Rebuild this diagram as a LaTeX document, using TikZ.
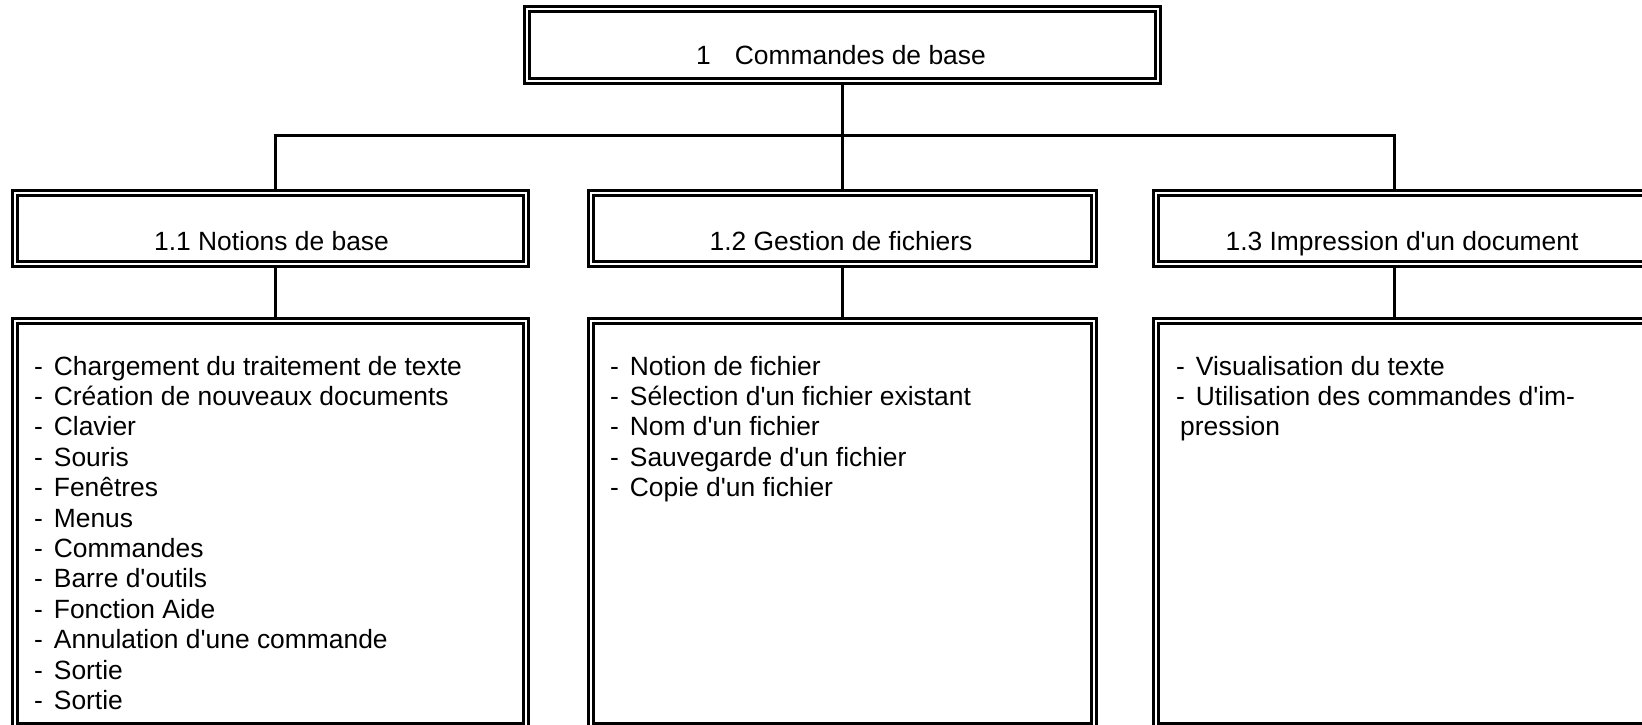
\documentclass[tikz,border=0pt]{standalone}
\usepackage{fontspec}
\newfontfamily\arialf{Liberation Sans}
\newcommand\aq{\textquotesingle}
\newcommand\lstitem[1]{\hbox{\makebox[19.7pt][l]{-}#1}}
\begin{document}
\begin{tikzpicture}[x=1pt,y=-1pt,
  dbox/.style={draw=black, double=white, line width=3pt, double distance=2pt,
    inner sep=0pt, outer sep=4pt, rectangle},
  conn/.style={draw=black, line width=3pt},
  txt/.style={inner sep=0pt, font=\arialf\fontsize{26.4}{30.4}\selectfont},
]
\useasboundingbox (0,0) rectangle (1642,725);
\clip (0,0) rectangle (1642,725);
\fill[white] (0,0) rectangle (1642,725);

% boxes
\node[dbox, minimum width=631pt, minimum height=72pt] (top) at (842.5,45) {};
\node[dbox, minimum width=511pt, minimum height=71pt] (b11) at (270.5,228.5) {};
\node[dbox, minimum width=503pt, minimum height=71pt] (b12) at (842.5,228.5) {};
\node[dbox, minimum width=511pt, minimum height=71pt] (b13) at (1411.5,228.5) {};
\node[dbox, minimum width=511pt, minimum height=405pt] (l11) at (270.5,523.5) {};
\node[dbox, minimum width=503pt, minimum height=405pt] (l12) at (842.5,523.5) {};
\node[dbox, minimum width=511pt, minimum height=405pt] (l13) at (1411.5,523.5) {};

% connectors
\coordinate (j1) at (275.5,135.5);
\coordinate (j3) at (1394.5,135.5);
\draw[conn, line cap=rect] (j1) -- (j3);
\draw[conn] (top.south) -- (b12.north);
\draw[conn] (j1) -- (j1 |- b11.north);
\draw[conn] (j3) -- (j3 |- b13.north);
\draw[conn] (j1 |- b11.south) -- (j1 |- l11.north);
\draw[conn] (b12.south) -- (l12.north);
\draw[conn] (j3 |- b13.south) -- (j3 |- l13.north);

% titles
\node[txt, anchor=base] (t0) at (841,65) {1\hspace{24pt}Commandes de base};
\node[txt, anchor=base] (t11) at (271.5,250) {1.1 Notions de base};
\node[txt, anchor=base] (t12) at (841,250) {1.2 Gestion de fichiers};
\node[txt, anchor=base] (t13) at (1402,250) {1.3 Impression d\aq un document};

% lists
\node[txt, anchor=base west] (x11) at (34,375) {\vtop{%
  \lstitem{Chargement du traitement de texte}
  \lstitem{Création de nouveaux documents}
  \lstitem{Clavier}
  \lstitem{Souris}
  \lstitem{Fenêtres}
  \lstitem{Menus}
  \lstitem{Commandes}
  \lstitem{Barre d\aq outils}
  \lstitem{Fonction Aide}
  \lstitem{Annulation d\aq une commande}
  \lstitem{Sortie}
  \lstitem{Sortie}}};
\node[txt, anchor=base west] (x12) at (610,375) {\vtop{%
  \lstitem{Notion de fichier}
  \lstitem{Sélection d\aq un fichier existant}
  \lstitem{Nom d\aq un fichier}
  \lstitem{Sauvegarde d\aq un fichier}
  \lstitem{Copie d\aq un fichier}}};
\node[txt, anchor=base west] (x13) at (1176,375) {\vtop{%
  \lstitem{Visualisation du texte}
  \lstitem{Utilisation des commandes d\aq im-}
  \hbox{\hspace*{4pt}pression}}};
\end{tikzpicture}
\end{document}
